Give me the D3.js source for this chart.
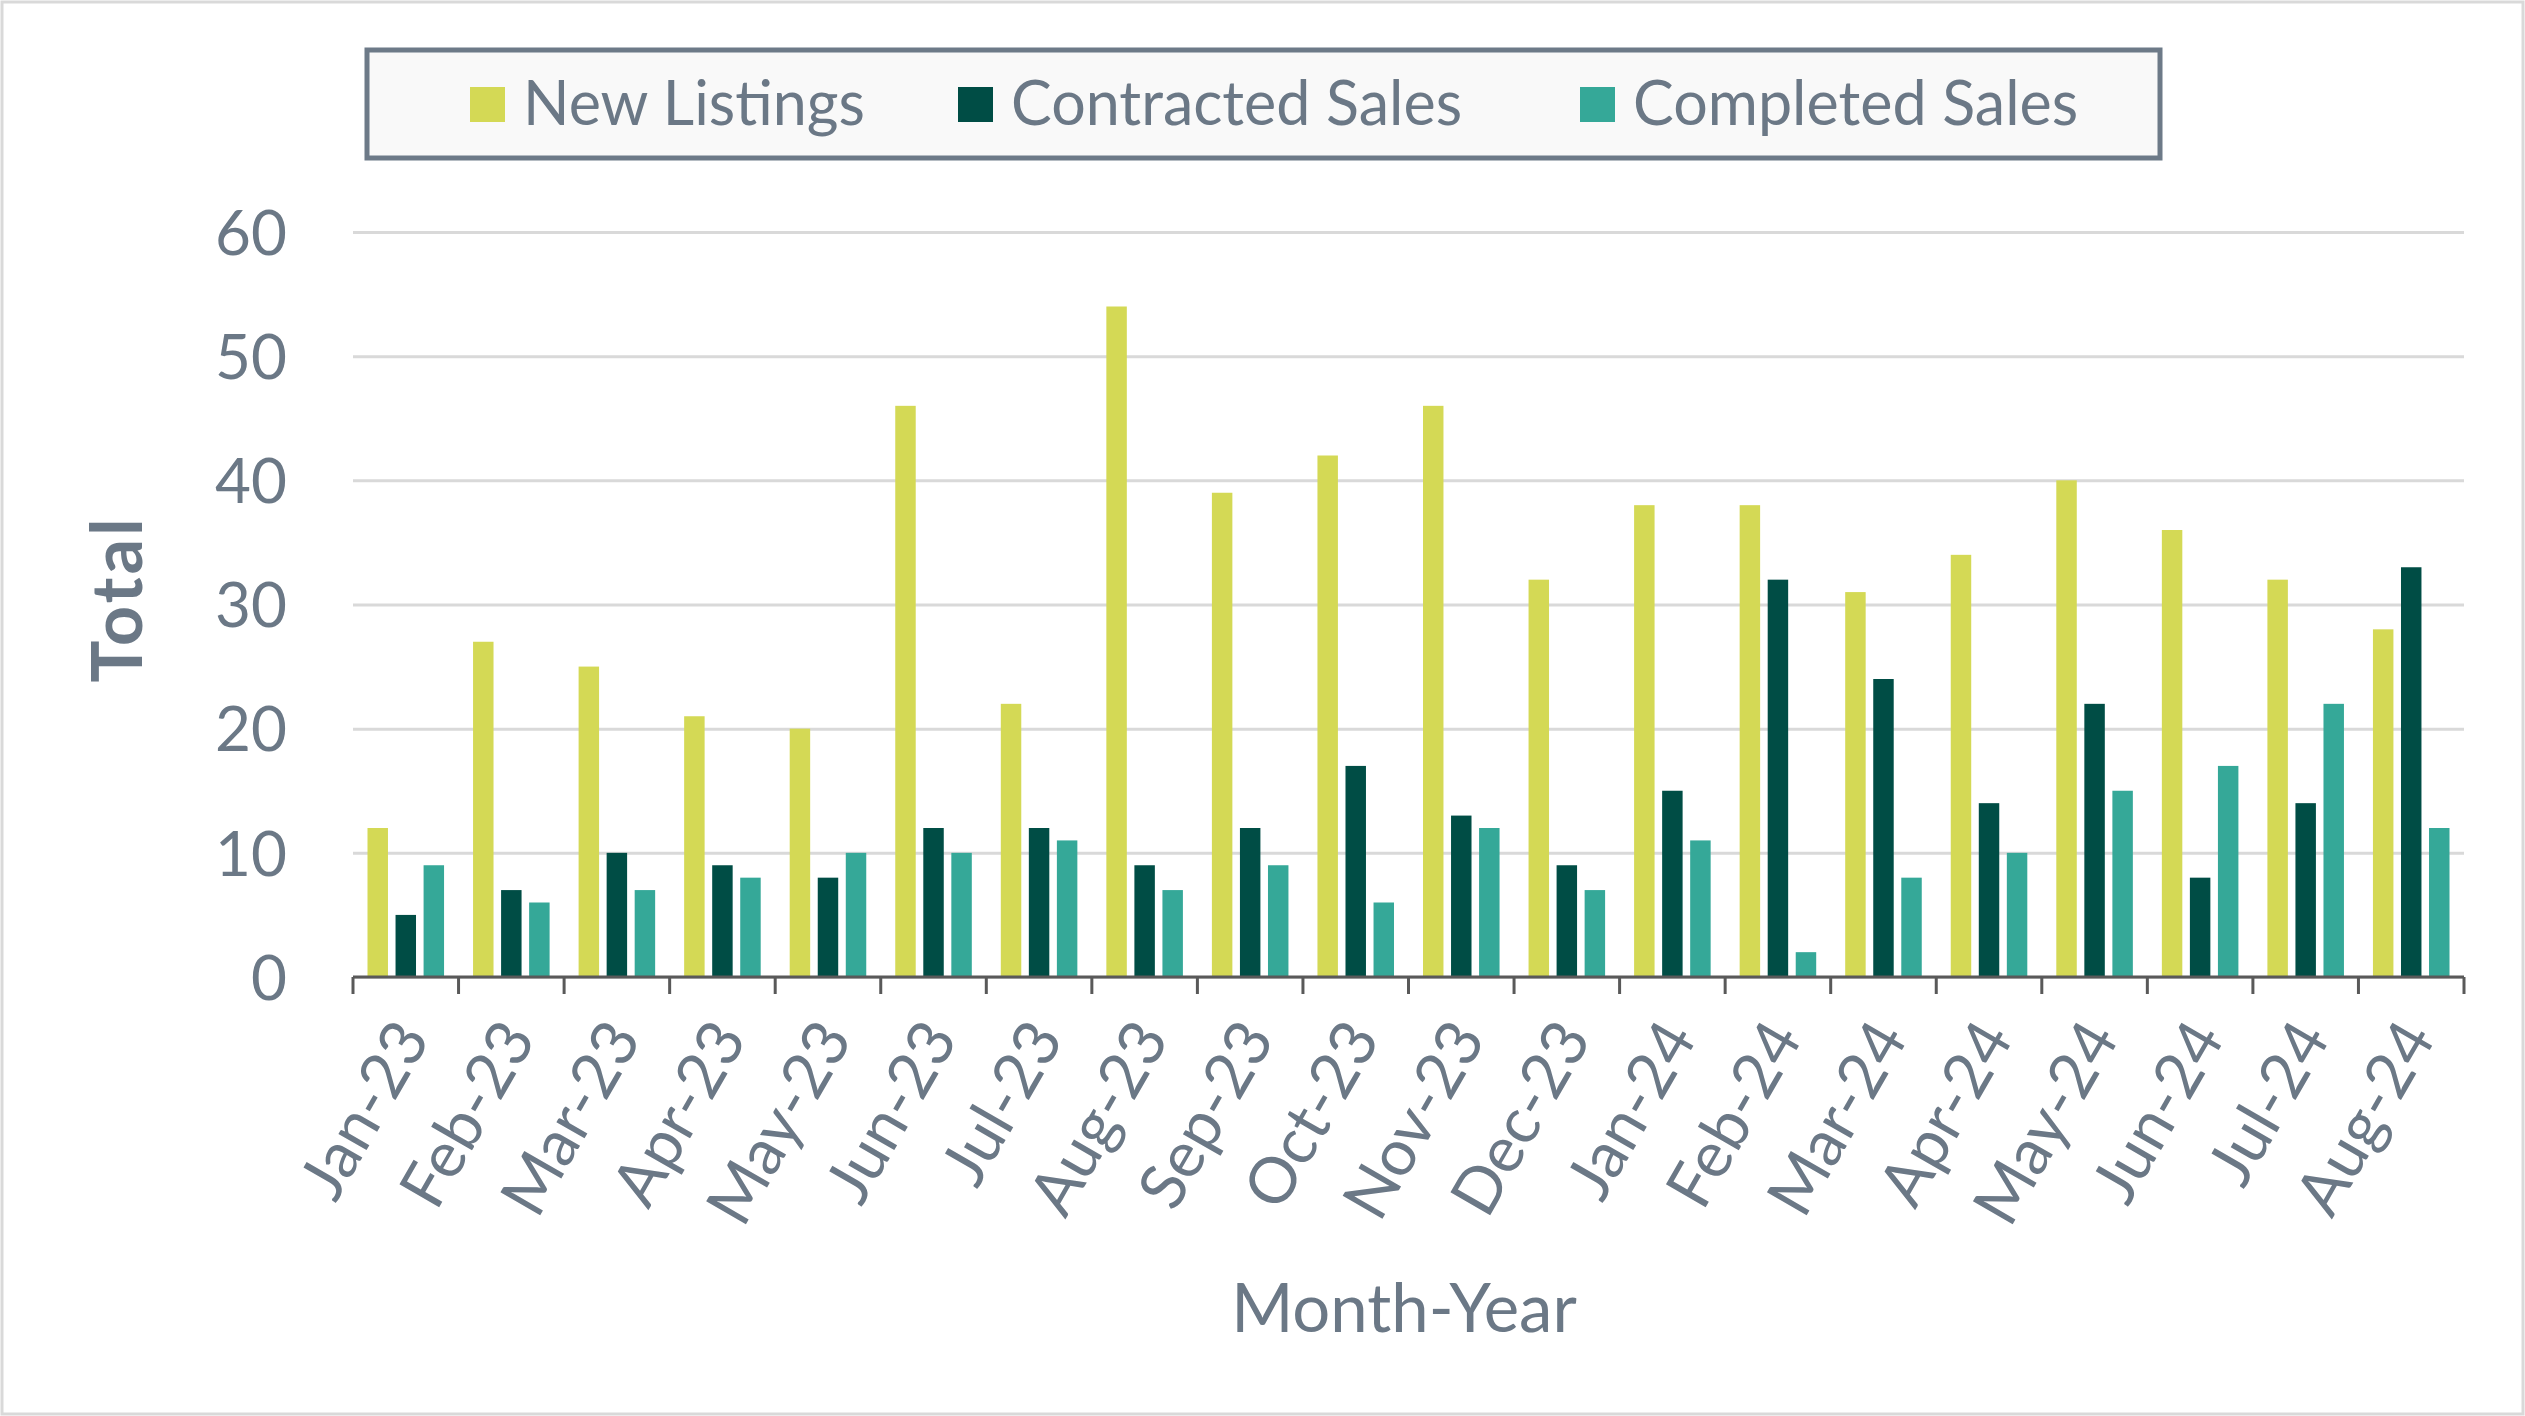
<!DOCTYPE html>
<html>
<head>
<meta charset="utf-8">
<script src="https://d3js.org/d3.v7.min.js"></script>
<style>
  body { margin: 0; background: #fff; }
  text { font-family: Lato, "Noto Sans", sans-serif; fill: #6b7886; }
</style>
</head>
<body>
<div id="chart-container"></div>
<script>
  const months = ["Jan-23","Feb-23","Mar-23","Apr-23","May-23","Jun-23","Jul-23","Aug-23","Sep-23","Oct-23","Nov-23","Dec-23",
                  "Jan-24","Feb-24","Mar-24","Apr-24","May-24","Jun-24","Jul-24","Aug-24"];
  const newListings    = [12, 27, 25, 21, 20, 46, 22, 54, 39, 42, 46, 32, 38, 38, 31, 34, 40, 36, 32, 28];
  const contractedSales = [5, 7, 10, 9, 8, 12, 12, 9, 12, 17, 13, 9, 15, 32, 24, 14, 22, 8, 14, 33];
  const completedSales  = [9, 6, 7, 8, 10, 10, 11, 7, 9, 6, 12, 7, 11, 2, 8, 10, 15, 17, 22, 12];
  const seriesNames = ["New Listings", "Contracted Sales", "Completed Sales"];
  const seriesColors = ["#d4d955", "#004d45", "#35a898"];
  const yTicks = [0, 10, 20, 30, 40, 50, 60];

  function renderChart() {
    const width = 2525, height = 1416;
    const margin = { top: 232, right: 61, bottom: 439, left: 353 };
    const innerW = width - margin.left - margin.right;
    const innerH = height - margin.top - margin.bottom;

    const data = months.map((m, i) => ({
      month: m,
      values: [newListings[i], contractedSales[i], completedSales[i]]
    }));

    const svg = d3.select("#chart-container").append("svg")
      .attr("width", width)
      .attr("height", height);

    // outer frame
    svg.append("rect")
      .attr("x", 2).attr("y", 2)
      .attr("width", width - 4).attr("height", height - 4)
      .attr("fill", "#fff")
      .attr("stroke", "#d9d9d9")
      .attr("stroke-width", 3);

    const g = svg.append("g")
      .attr("transform", `translate(${margin.left},${margin.top})`);

    const x0 = d3.scaleBand()
      .domain(months)
      .range([0, innerW])
      .padding(0);

    const x1 = d3.scaleBand()
      .domain(d3.range(3))
      .range([14.5, x0.bandwidth() - 14.5])
      .paddingInner(0.27);

    const y = d3.scaleLinear()
      .domain([0, 60])
      .range([innerH, 0]);

    // grid
    g.append("g")
      .attr("class", "grid")
      .call(d3.axisLeft(y).tickValues(yTicks).tickSize(-innerW).tickFormat(""))
      .call(s => s.select(".domain").remove())
      .call(s => s.selectAll("line").attr("stroke", "#d9d9d9").attr("stroke-width", 3));

    // y labels
    g.append("g")
      .call(d3.axisLeft(y).tickValues(yTicks).tickSize(0).tickPadding(66))
      .call(s => s.select(".domain").remove())
      .call(s => s.selectAll("text")
        .style("font-size", "62px")
        .style("font-family", "Lato, sans-serif")
        .attr("fill", "#6b7886")
        .attr("dy", "0.36em"));

    // bars
    g.selectAll(".group")
      .data(data)
      .enter()
      .append("g")
      .attr("transform", d => `translate(${x0(d.month)},0)`)
      .selectAll("rect")
      .data(d => d.values)
      .enter()
      .append("rect")
      .attr("x", (v, i) => x1(i))
      .attr("y", v => y(v))
      .attr("width", x1.bandwidth())
      .attr("height", v => innerH - y(v))
      .attr("fill", (v, i) => seriesColors[i]);

    // x axis line and boundary ticks
    const xAxis = g.append("g").attr("transform", `translate(0,${innerH})`);
    xAxis.append("line")
      .attr("x1", 0).attr("x2", innerW)
      .attr("stroke", "#595959").attr("stroke-width", 3);
    const bounds = months.map(m => x0(m)).concat([innerW]);
    xAxis.selectAll(".tick-b")
      .data(bounds)
      .enter()
      .append("line")
      .attr("x1", d => d).attr("x2", d => d)
      .attr("y1", 0).attr("y2", 17)
      .attr("stroke", "#595959").attr("stroke-width", 3);

    // x labels
    xAxis.selectAll(".xlabel")
      .data(months)
      .enter()
      .append("text")
      .attr("transform", d => `translate(${x0(d) + x0.bandwidth() / 2 + 6},50) rotate(-60)`)
      .attr("text-anchor", "end")
      .attr("dy", "0.35em")
      .style("font-size", "64px")
      .text(d => d);

    // axis titles
    svg.append("text")
      .attr("transform", `translate(142,599) rotate(-90)`)
      .attr("text-anchor", "middle")
      .style("font-size", "70px")
      .style("font-weight", "bold")
      .style("letter-spacing", "3px")
      .text("Total");

    svg.append("text")
      .attr("x", 1404)
      .attr("y", 1332)
      .attr("text-anchor", "middle")
      .style("font-size", "67px")
      .text("Month-Year");

    // legend
    const legend = svg.append("g");
    legend.append("rect")
      .attr("x", 367).attr("y", 50)
      .attr("width", 1793).attr("height", 108)
      .attr("fill", "#f9f9f9")
      .attr("stroke", "#6d7a88")
      .attr("stroke-width", 5);
    const legendX = [470, 958, 1580];
    seriesNames.forEach((name, i) => {
      legend.append("rect")
        .attr("x", legendX[i]).attr("y", 87)
        .attr("width", 35).attr("height", 35)
        .attr("fill", seriesColors[i]);
      legend.append("text")
        .attr("x", legendX[i] + 53)
        .attr("y", 125)
        .style("font-size", "61px")
        .text(name);
    });
  }

  renderChart();
</script>
</body>
</html>
